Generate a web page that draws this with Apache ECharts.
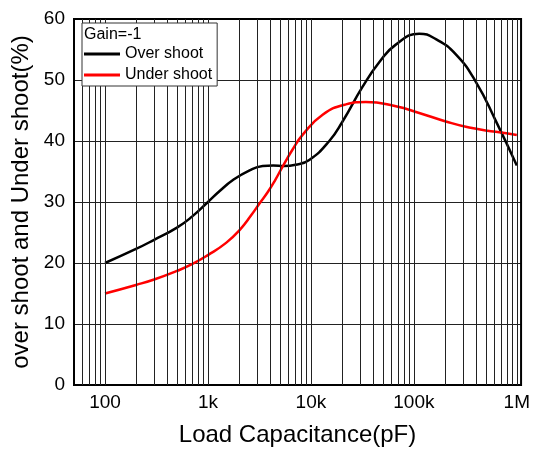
<!DOCTYPE html>
<html>
<head>
<meta charset="utf-8">
<script src="https://cdn.jsdelivr.net/npm/echarts@6/dist/echarts.min.js"></script>
<style>html,body{margin:0;padding:0;background:#fff}#c{width:533px;height:452px}</style>
</head>
<body>
<div id="c"></div>
<script>
// Data
const overC = [100, 200, 300, 500, 700, 1000, 1300, 1750, 2540, 3400, 4300, 5500, 7100, 9640, 15100, 20300, 31800, 46100, 66800, 112700, 163600, 255700, 400000, 625000, 1000000];
const overV = [20, 22.3, 23.8, 25.8, 27.6, 30, 31.8, 33.6, 35.2, 35.9, 36.0, 35.9, 36.1, 36.9, 40, 43.2, 48.9, 52.9, 55.8, 57.6, 56.7, 54.2, 49.7, 43.3, 36];
const underC = [100, 200, 300, 500, 700, 1000, 1500, 2030, 2650, 3180, 3800, 4500, 5310, 6640, 8300, 13000, 21900, 34200, 66800, 112700, 204600, 345000, 625000, 1000000];
const underV = [15, 16.4, 17.3, 18.7, 19.8, 21.3, 23.3, 25.4, 27.9, 29.8, 31.6, 33.6, 35.8, 38.6, 41.0, 44.3, 46.0, 46.4, 45.7, 44.6, 43.2, 42.2, 41.5, 41.0];
const xTickValues = [100, 1000, 10000, 100000, 1000000];
const xTickLabels = ['100', '1k', '10k', '100k', '1M'];
const gridXValues = [60, 70, 80, 90, 100, 200, 300, 400, 500, 600, 700, 800, 900, 1000,
  2000, 3000, 4000, 5000, 6000, 7000, 8000, 9000, 10000,
  20000, 30000, 40000, 50000, 60000, 70000, 80000, 90000, 100000,
  200000, 300000, 400000, 500000, 600000, 700000, 800000, 900000, 1000000];
const seriesNames = ['Over shoot', 'Under shoot'];
const legendTitle = 'Gain=-1';

const FONT = '"Liberation Sans", Arial, sans-serif';
const chart = echarts.init(document.getElementById('c'), null, {renderer: 'canvas'});
chart.setOption({
  animation: false,
  backgroundColor: '#fff',
  grid: {left: 74, right: 11, top: 19, bottom: 59, show: true, borderColor: '#000', borderWidth: 2, backgroundColor: 'transparent', z: 5},
  xAxis: {
    type: 'log', logBase: 10, min: 50, max: 1100000,
    name: 'Load Capacitance(pF)', nameLocation: 'middle', nameGap: 38,
    nameTextStyle: {fontFamily: FONT, fontSize: 24, color: '#000'},
    axisLine: {show: false}, axisTick: {show: false},
    splitLine: {show: false}, minorTick: {show: false}, minorSplitLine: {show: false},
    axisLabel: {
      fontFamily: FONT, fontSize: 19, color: '#000', margin: 8,
      showMinLabel: true, showMaxLabel: true,
      formatter: function (v) {
        for (let i = 0; i < xTickValues.length; i++) {
          if (Math.abs(v - xTickValues[i]) / xTickValues[i] < 1e-6) return xTickLabels[i];
        }
        return '';
      }
    }
  },
  yAxis: {
    type: 'value', min: 0, max: 60, interval: 10,
    name: 'over shoot and Under shoot(%)', nameLocation: 'middle', nameGap: 40,
    nameTextStyle: {fontFamily: FONT, fontSize: 24, color: '#000'},
    axisLine: {show: false}, axisTick: {show: false},
    axisLabel: {fontFamily: FONT, fontSize: 19, color: '#000', margin: 9},
    splitLine: {show: true, lineStyle: {color: '#222', width: 1}}
  },
  legend: {
    data: seriesNames, orient: 'vertical', left: 82, top: 23,
    icon: 'rect', itemWidth: 36, itemHeight: 3, itemGap: 1,
    padding: [21, 5, 1, 2],
    borderColor: '#333', borderWidth: 1, backgroundColor: '#fff',
    textStyle: {fontFamily: FONT, fontSize: 16, color: '#000', lineHeight: 20},
    z: 10
  },
  graphic: [{
    type: 'text', left: 84, top: 27, z: 20,
    style: {text: legendTitle, font: '16px ' + FONT, fill: '#000'}
  }],
  series: [
    {
      name: 'grid', type: 'line', data: [], z: 1, silent: true,
      markLine: {
        silent: true, symbol: ['none', 'none'], label: {show: false},
        lineStyle: {color: '#222', width: 1, type: 'solid'},
        emphasis: {disabled: true},
        data: gridXValues.map(v => ({xAxis: v}))
      }
    },
    {
      name: seriesNames[0], type: 'line', smooth: 0.5, showSymbol: false, symbol: 'none', z: 3,
      color: '#000', lineStyle: {color: '#000', width: 2.5},
      data: overC.map((c, i) => [c, overV[i]])
    },
    {
      name: seriesNames[1], type: 'line', smooth: 0.5, showSymbol: false, symbol: 'none', z: 3,
      color: '#ff0000', lineStyle: {color: '#ff0000', width: 2.5},
      data: underC.map((c, i) => [c, underV[i]])
    }
  ]
});
</script>
</body>
</html>
